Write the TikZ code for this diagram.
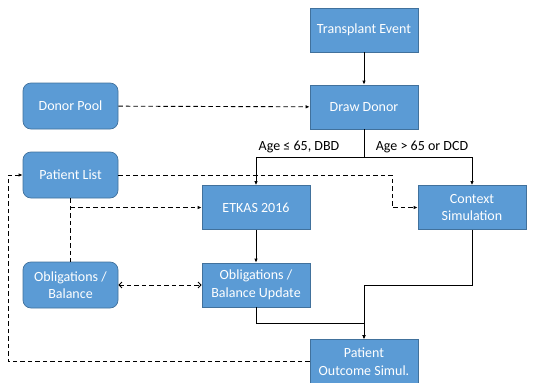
\documentclass[tikz,border=0pt]{standalone}
\usepackage{fontspec}
\setmainfont{Carlito}
\usepackage{xcolor}
\usepackage{tikz}
\usetikzlibrary{arrows.meta, calc}
\definecolor{boxfill}{HTML}{5B9BD5}
\definecolor{boxline}{HTML}{41719C}
\tikzset{
    >={Latex[length=4pt, width=3.5pt]},
    step box/.style={draw=boxline, fill=boxfill, line width=0.7pt, text=white,
        minimum width=108pt, minimum height=44pt, align=center,
        font=\fontsize{14}{17.5}\selectfont},
    data box/.style={step box, rounded corners=8pt, minimum width=95pt, minimum height=46pt},
    flow/.style={->, line width=0.9pt},
    dflow/.style={flow, dashed, dash pattern=on 4.5pt off 3pt},
    dline/.style={line width=0.9pt, dashed, dash pattern=on 4.5pt off 3pt},
    dboth/.style={dline, {Straight Barb[length=3pt, width=6pt]}-{Straight Barb[length=3pt, width=6pt]}},
    cond/.style={font=\fontsize{14}{16}\selectfont},
}

\begin{document}
\begin{tikzpicture}[x=1pt, y=-1pt]
        \useasboundingbox (0,0) rectangle (552,383);
        % process steps
        \node[step box] (trans) at (364,30) {Transplant Event};
        \node[step box] (draw) at (364,107) {Draw Donor};
        \node[step box] (etkas) at (256,207.5) {ETKAS 2016};
        \node[step box] (context) at (472,207.5) {Context\\Simulation};
        \node[step box] (oblu) at (256,285) {Obligations /\\Balance Update};
        \node[step box] (outcome) at (364,361.5) {Patient\\Outcome Simul.};
        % data
        \node[data box] (pool) at (70.5,106) {Donor Pool};
        \node[data box] (plist) at (70.5,175) {Patient List};
        \node[data box] (obl) at (70.5,285) {Obligations /\\Balance};
        % conditions
        \node[cond] (young) at (299,147) {Age ≤ 65, DBD};
        \node[cond] (old) at (422,147) {Age > 65 or DCD};
        % helper points
        \coordinate (split) at (364,157);
        \coordinate (plturn) at (392,175);
        \coordinate (join) at (70.5,207.5);
        \coordinate (cturn) at (364,285);
        \coordinate (merge) at (364,323);
        \coordinate (back) at (8,361.5);
        % solid flow
        \draw[flow] (trans) -- (draw);
        \draw[line width=0.9pt] (draw) -- (split);
        \foreach \n in {etkas,context}
            \draw[flow] (split) -| (\n);
        \draw[flow] (etkas) -- (oblu);
        \draw[flow] (oblu) |- (merge) -- (outcome);
        \draw[flow] (context) |- (cturn) -- (outcome);
        % data flow
        \draw[dflow] (pool) -- (draw);
        \draw[dflow] (plist) -- (plturn) |- (context);
        \draw[dline] (plist) -- (obl);
        \draw[dflow] (join) -- (etkas);
        \draw[dboth] (obl) -- (oblu);
        \draw[dflow] (outcome) -- (back) |- (plist);
\end{tikzpicture}
\end{document}
